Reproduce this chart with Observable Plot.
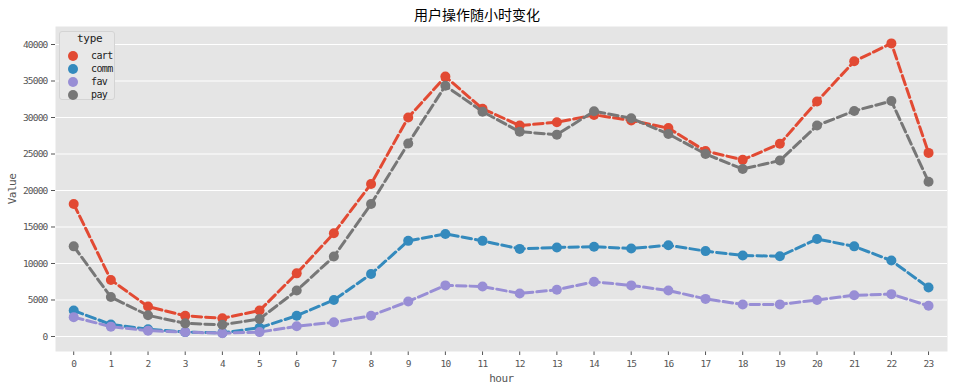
<!DOCTYPE html>
<html><head><meta charset="utf-8">
<script src="https://cdn.jsdelivr.net/npm/d3@7"></script>
<script src="https://cdn.jsdelivr.net/npm/@observablehq/plot@0.6"></script>
<style>
body{margin:0;background:#fff;font-family:"DejaVu Sans Mono",monospace;}
#wrap{position:relative;width:954px;height:388px;}
#title{height:26px;line-height:29px;text-align:center;font-family:"Noto Sans CJK SC",sans-serif;font-size:14px;color:#000;}
#legend{position:absolute;left:59px;top:31px;width:56px;height:69px;border:1px solid #d4d4d4;border-radius:3px;background:#e8e8e8;font-size:10px;letter-spacing:-0.6px;color:#222;box-sizing:border-box;}
#legend .t{position:absolute;left:17px;top:0px;font-size:11px;letter-spacing:-0.3px;}
#legend .r{position:absolute;left:8px;height:13px;line-height:13px;}
#legend .c{display:inline-block;width:10px;height:10px;border-radius:50%;vertical-align:middle;margin-right:13px;}
</style></head>
<body>
<div id="wrap">
<div id="title">用户操作随小时变化</div>
<div id="chart"></div>
<div id="legend"></div>
</div>
<script>
const hours = d3.range(24);
const types = ["cart","comm","fav","pay"];
const colors = ["#E24A33","#348ABD","#988ED5","#777777"];
const cart = [18150,7750,4100,2830,2500,3550,8650,14150,20900,30000,35600,31200,28900,29350,30350,29600,28550,25400,24200,26400,32200,37700,40150,25150];
const comm = [3550,1650,1000,600,500,1200,2850,5000,8550,13100,14050,13100,12000,12200,12300,12050,12500,11700,11100,11000,13350,12350,10400,6700];
const fav  = [2650,1350,800,600,450,600,1400,1950,2850,4800,7000,6850,5900,6400,7500,7000,6300,5150,4380,4400,5000,5650,5800,4200];
const pay  = [12350,5400,2900,1800,1600,2400,6300,10950,18150,26450,34350,30800,28050,27650,30850,29900,27750,25000,22950,24100,28900,30900,32250,21200];
const yTicks = d3.range(0, 40001, 5000);

const seriesVals = {cart, comm, fav, pay};
const rows = [];
types.forEach(t => hours.forEach((h,i) => rows.push({hour:h, value:seriesVals[t][i], type:t})));

const marks = [
  Plot.frame({fill:"#E5E5E5", stroke:null}),
  Plot.ruleY(yTicks, {stroke:"#fff", strokeWidth:1}),
];
types.forEach(t => {
  const d = rows.filter(r => r.type === t);
  marks.push(Plot.line(d, {x:"hour", y:"value", stroke:"type", strokeWidth:3, strokeDasharray:"9.5,4"}));
  marks.push(Plot.dot(d, {x:"hour", y:"value", fill:"type", r:5, stroke:null}));
});

const chart = Plot.plot({
  width:954, height:362,
  marginTop:0, marginBottom:37, marginLeft:55, marginRight:7,
  style:{fontFamily:"DejaVu Sans Mono, monospace", fontSize:"9.5px", color:"#555", background:"transparent", letterSpacing:"-0.8px"},
  x:{domain:[-0.49,23.51], ticks:hours, tickFormat:d=>String(d), tickSize:4, tickPadding:5, label:"hour", labelAnchor:"center", labelArrow:"none", labelOffset:30},
  y:{domain:[-2055,42466], ticks:yTicks, tickFormat:d=>String(d), tickSize:4, tickPadding:4, label:"Value", labelAnchor:"center", labelArrow:"none", labelOffset:47},
  color:{domain:types, range:colors},
  marks
});
document.getElementById("chart").appendChild(chart);
chart.querySelectorAll('[aria-label="x-axis label"] text, [aria-label="y-axis label"] text').forEach(t=>{t.style.fontSize="11px";t.style.fill="#555";t.style.letterSpacing="-0.5px";});

const lg = document.getElementById("legend");
lg.innerHTML = '<div class="t">type</div>' + types.map((t,i)=>
  `<div class="r" style="top:${17+i*13}px"><span class="c" style="background:${colors[i]}"></span>${t}</div>`).join("");
</script>
</body></html>
